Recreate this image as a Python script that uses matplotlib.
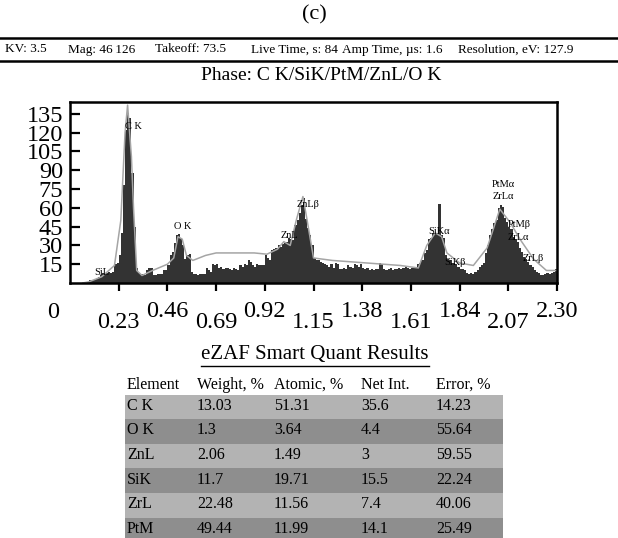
import numpy as np
import matplotlib.pyplot as plt
from matplotlib.lines import Line2D
from matplotlib.patches import Rectangle

plt.rcParams['font.family'] = ['Liberation Serif', 'DejaVu Serif']

W, H = 618, 538

# acquisition parameters shown above the spectrum
header_items = ['KV: 3.5', 'Mag: 46\u2009126', 'Takeoff: 73.5', 'Live Time, s: 84',
                'Amp Time, \u00b5s: 1.6', 'Resolution, eV: 127.9']
phase_title = 'Phase: C K/SiK/PtM/ZnL/O K'

# EDS spectrum: counts in 10 eV channels, 0 - 2.30 keV
channel_kev = 0.01
counts = [
    0, 0, 0, 0, 0, 0, 0, 0, 1, 2,
    2, 2, 3, 5, 6, 8, 8, 8, 9, 8,
    9, 15, 16, 22, 40, 78, 122, 136, 132, 88,
    45, 12, 8, 7, 7, 6, 10, 12, 12, 6,
    6, 7, 7, 7, 10, 10, 14, 22, 25, 32,
    38, 39, 36, 30, 19, 22, 23, 9, 7, 7,
    6, 7, 7, 7, 12, 10, 9, 15, 14, 15,
    12, 13, 11, 12, 12, 11, 10, 12, 11, 10,
    14, 13, 15, 14, 18, 17, 14, 13, 15, 14,
    14, 14, 22, 20, 18, 26, 27, 28, 30, 29,
    31, 32, 33, 36, 35, 34, 46, 50, 56, 62,
    68, 51, 44, 38, 30, 20, 18, 18, 17, 16,
    15, 14, 13, 15, 12, 16, 15, 11, 11, 12,
    11, 14, 13, 12, 15, 14, 13, 15, 12, 11,
    12, 10, 11, 10, 11, 11, 16, 15, 11, 10,
    11, 12, 10, 11, 11, 12, 11, 12, 13, 12,
    11, 12, 13, 12, 15, 16, 18, 24, 26, 35,
    36, 40, 40, 39, 63, 38, 36, 22, 19, 18,
    16, 16, 15, 13, 11, 11, 10, 8, 7, 8,
    7, 9, 10, 13, 14, 16, 24, 30, 38, 43,
    48, 50, 60, 62, 61, 52, 49, 45, 43, 37,
    35, 33, 28, 25, 21, 19, 17, 14, 13, 10,
    9, 8, 6, 6, 7, 8, 7, 8, 9, 11,
]

# fitted spectrum (peaks + background)
fit_energy = [0.06, 0.09, 0.15, 0.21, 0.24, 0.26, 0.272, 0.29, 0.30, 0.315,
              0.34, 0.39, 0.46, 0.49, 0.51, 0.53, 0.55, 0.58, 0.64, 0.69,
              0.77, 0.87, 0.93, 0.98, 1.01, 1.04, 1.07, 1.10, 1.12, 1.15,
              1.24, 1.40, 1.56, 1.645, 1.685, 1.725, 1.755, 1.78, 1.84, 1.905,
              1.97, 2.03, 2.08, 2.125, 2.19, 2.25, 2.30]
fit_counts = [0, 1, 5, 14, 50, 120, 142, 101, 60, 10,
              6, 10, 15, 20, 37, 35, 22, 18, 22, 24,
              24, 24, 23, 27, 33, 30, 51, 69, 50, 20,
              18, 16, 14, 12, 30, 40, 37, 24, 16, 14,
              28, 59, 48, 35, 19, 10, 10]

# peak identifications: (label, keV, counts)
peak_names = ['SiL', 'C K', 'O K', 'ZnL', 'ZnL\u03b2', 'SiK\u03b1', 'SiK\u03b2',
              'PtM\u03b1', 'ZrL\u03b1', 'PtM\u03b2', 'ZrL\u03b1', 'ZrL\u03b2']
peak_kev = [0.151, 0.30, 0.534, 1.034, 1.122, 1.741, 1.818,
            2.048, 2.044, 2.121, 2.117, 2.188]
peak_counts = [8.7, 125, 45.5, 37.6, 62.7, 41.5, 16.4,
               78.6, 69.3, 46.8, 36.3, 19.6]

y_ticks = [15, 30, 45, 60, 75, 90, 105, 120, 135]
x_ticks = [0.23, 0.46, 0.69, 0.92, 1.15, 1.38, 1.61, 1.84, 2.07, 2.30]
x_tick_labels = ['0.23', '0.46', '0.69', '0.92', '1.15', '1.38', '1.61', '1.84', '2.07', '2.30']

# quantification table
table_title = 'eZAF Smart Quant Results'
table_columns = ['Element', 'Weight, %', 'Atomic, %', 'Net Int.', 'Error, %']
elements = ['C K', 'O K', 'ZnL', 'SiK', 'ZrL', 'PtM']
weight_pct = [13.03, 1.3, 2.06, 11.7, 22.48, 49.44]
atomic_pct = [51.31, 3.64, 1.49, 19.71, 11.56, 11.99]
net_int = [35.6, 4.4, 3, 15.5, 7.4, 14.1]
error_pct = [14.23, 55.64, 59.55, 22.24, 40.06, 25.49]


def fx(px):
    return px / W


def fy(py):
    return 1 - py / H


fig = plt.figure(figsize=(W / 100, H / 100), dpi=100)

# header block
fig.text(fx(314), fy(15), '(c)', fontsize=16, ha='center', va='center')
for yy in (38, 61):
    fig.add_artist(Line2D([0, 1], [fy(yy), fy(yy)], transform=fig.transFigure,
                          color='black', lw=1.8))
header_x = [5, 68, 155, 251, 342, 458]
for txt, x in zip(header_items, header_x):
    fig.text(fx(x), fy(49.5), txt, fontsize=9.5, ha='left', va='center')
fig.text(fx(321), fy(75), phase_title, fontsize=14, ha='center', va='center')

# spectrum
ax = fig.add_axes([fx(70), fy(283), 487 / W, 181 / H])
edges = np.arange(len(counts) + 1) * channel_kev
ax.stairs(counts, edges, fill=True, color='#333333', lw=0)
ax.plot(fit_energy, fit_counts, color='#a5a5a5', lw=1.1)
for name, e, c in zip(peak_names, peak_kev, peak_counts):
    ax.text(e, c, name, fontsize=7.5, ha='center', va='center')

ax.set_xlim(0, 2.30)
ax.set_ylim(0, 144.5)
ax.set_yticks(y_ticks)
ax.set_xticks(x_ticks, x_tick_labels)
for s in ax.spines.values():
    s.set_linewidth(1.8)
ax.tick_params(axis='y', direction='in', length=7, width=1.6, labelsize=17.5, pad=5)
ax.tick_params(axis='x', direction='out', length=6, width=1.6, labelsize=17.5)
for i, tick in enumerate(ax.xaxis.get_major_ticks()):
    tick.set_pad(15 if i % 2 == 0 else 7)
fig.text(fx(53), fy(312), '0', fontsize=17.5, ha='center', va='center')

# results table
t = fig.text(fx(315), fy(355), table_title, fontsize=15, ha='center', va='center')
fig.canvas.draw()
bb = t.get_window_extent().transformed(fig.transFigure.inverted())
fig.add_artist(Line2D([bb.x0, bb.x1], [fy(366), fy(366)], transform=fig.transFigure,
                      color='black', lw=1.0))

col_x = [127, 197, 274, 361, 436]
for txt, x in zip(table_columns, col_x):
    fig.text(fx(x), fy(385), txt, fontsize=11.5, ha='left', va='center')

row_top = 394.5
row_h = 24.6
for r, el in enumerate(elements):
    y0 = row_top + r * row_h
    shade = '#b3b3b3' if r % 2 == 0 else '#8e8e8e'
    fig.add_artist(Rectangle((fx(125), fy(y0 + row_h)), 378 / W, row_h / H,
                             transform=fig.transFigure, facecolor=shade, edgecolor='none'))
    cells = [el, f'{weight_pct[r]:g}', f'{atomic_pct[r]:g}', f'{net_int[r]:g}', f'{error_pct[r]:g}']
    for txt, x in zip(cells, col_x):
        fig.text(fx(x), fy(y0 + row_h / 2 - 1), txt, fontsize=11.5, ha='left', va='center')

fig.savefig('out.png', dpi=100)
